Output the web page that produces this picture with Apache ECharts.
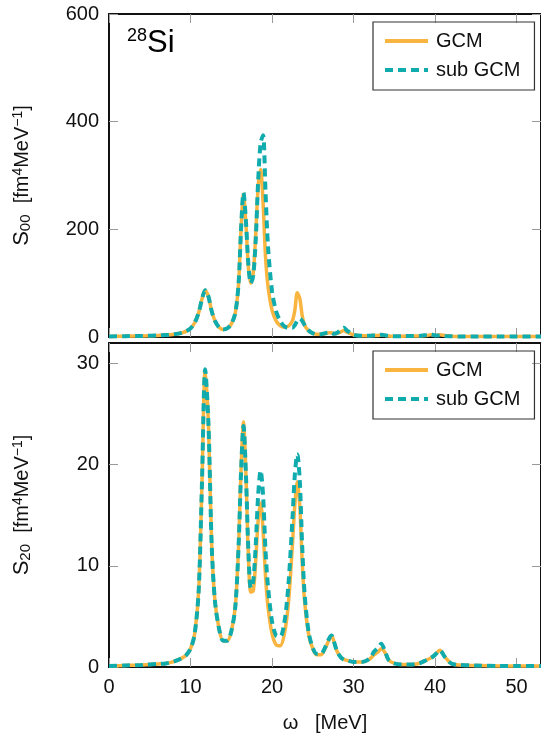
<!DOCTYPE html>
<html>
<head>
<meta charset="utf-8">
<script src="https://cdn.jsdelivr.net/npm/echarts@6/dist/echarts.min.js"></script>
<style>
  html, body { margin: 0; padding: 0; background: #fff; }
  #chart { width: 541px; height: 738px; }
</style>
</head>
<body>
<div id="chart"></div>
<script>
// omega grid in MeV, shared by both panels
const omega = [0, 2, 4, 6, 7, 8, 9, 9.5, 10, 10.5, 11, 11.4, 11.8, 12.2, 12.6, 13, 13.5, 14, 14.5, 15,
  15.5, 15.9, 16.2, 16.5, 16.8, 17.1, 17.4, 17.7, 18, 18.3, 18.6, 18.9, 19.2, 19.5, 20, 20.5, 21, 21.5,
  22, 22.5, 22.8, 23.1, 23.4, 23.7, 24, 24.5, 25, 25.5, 26, 26.5, 27, 27.3, 27.6, 28, 28.5, 28.8, 29.2,
  30, 31, 32, 32.5, 33, 33.4, 33.8, 34.3, 35, 36, 37, 38, 39, 39.5, 40, 40.6, 41.2, 42, 43, 45, 48, 50, 53];

// S00 (top panel)
const s00Gcm = [1, 1.5, 2, 3, 3.5, 5, 8, 11, 16, 26, 45, 70, 87, 75, 48, 30, 18, 14, 16, 24,
  45, 100, 200, 265, 210, 130, 100, 120, 190, 280, 311, 250, 150, 95, 50, 30, 21, 18,
  20, 30, 50, 82, 72, 40, 22, 11, 7, 5, 5, 6, 8, 8, 6, 7, 10, 12, 9,
  4, 2.5, 2.5, 3, 3, 3.5, 3, 2, 1.5, 1.5, 2, 2, 3, 4, 3, 4, 3, 1.5, 1, 1, 1, 1, 1];
const s00Sub = [1, 1.5, 2, 3, 3.5, 5, 8, 11, 16, 26, 45, 70, 87, 75, 48, 30, 18, 14, 16, 24,
  45, 100, 200, 268, 215, 135, 100, 115, 180, 290, 360, 375, 270, 170, 85, 48, 30, 20,
  17, 17, 22, 30, 34, 30, 22, 12, 7, 5, 5, 7, 8, 8, 6, 8, 14, 17, 12,
  4, 2.5, 2.5, 3, 3.5, 4, 3.5, 2, 1.5, 1.5, 2, 2, 4, 5, 3, 3, 2, 1.5, 1, 1, 1, 1, 1];

// S20 (bottom panel)
const s20Gcm = [0.1, 0.15, 0.2, 0.3, 0.35, 0.55, 0.9, 1.2, 1.8, 3.2, 7.5, 18, 29.3, 24, 12, 6.5, 3.8, 2.6, 2.6, 3.5,
  6, 12, 19.5, 24.2, 19, 11, 7.4, 7.5, 10.5, 14.5, 16.2, 13.5, 9, 6, 3.3, 2.2, 2.1, 3.2,
  6.2, 12, 16, 18.3, 16, 10.5, 6.5, 3.2, 1.8, 1.2, 1.2, 1.8, 2.7, 3.1, 2.5, 1.5, 0.9, 0.75, 0.65,
  0.5, 0.5, 0.8, 1.2, 1.5, 1.8, 1.5, 0.7, 0.35, 0.25, 0.25, 0.35, 0.7, 0.9, 1.2, 1.65, 1.0, 0.35, 0.2, 0.15, 0.1, 0.1, 0.1];
const s20Sub = [0.1, 0.15, 0.2, 0.3, 0.35, 0.55, 0.9, 1.2, 1.8, 3.2, 7.5, 18, 29.4, 24, 12, 6.5, 3.8, 2.6, 2.6, 3.5,
  6, 12, 19.2, 23.8, 19, 11.5, 7.8, 8.5, 12, 17, 19.4, 17, 11.5, 8, 4.5, 3.1, 3.0, 4.3,
  8, 14.5, 19, 21, 18.5, 12, 7.2, 3.4, 1.9, 1.3, 1.3, 1.9, 2.8, 3.1, 2.5, 1.5, 0.9, 0.75, 0.65,
  0.5, 0.5, 0.85, 1.5, 1.9, 2.3, 1.7, 0.7, 0.35, 0.25, 0.25, 0.35, 0.7, 0.9, 1.2, 1.65, 1.0, 0.35, 0.2, 0.15, 0.1, 0.1, 0.1];

const xTicks = [0, 10, 20, 30, 40, 50];
const yTicksTop = [0, 200, 400, 600];
const yTicksBottom = [0, 10, 20, 30];

const FONT = 'Liberation Sans';
const ORANGE = '#FAB540';
const TEAL = '#10ABAD';

const pairs = ys => omega.map((x, i) => [x, ys[i]]);

const chart = echarts.init(document.getElementById('chart'), null, { renderer: 'canvas' });

const frameLine = { show: true, onZero: false, lineStyle: { color: '#111', width: 2 } };
const tick = vals => ({ show: true, inside: true, length: 9, customValues: vals, lineStyle: { color: '#9a9a9a', width: 1 } });
const labelStyle = { fontFamily: FONT, fontSize: 20, color: '#111' };

const xAxisFor = (gridIndex, position, showLabels) => ({
  type: 'value', gridIndex, position, min: 0, max: 53,
  axisLine: frameLine,
  axisTick: tick(xTicks),
  axisLabel: Object.assign({ show: showLabels, customValues: xTicks, margin: 10 }, labelStyle),
  splitLine: { show: false }
});

const yAxisFor = (gridIndex, position, max, ticks, name) => ({
  type: 'value', gridIndex, position, min: 0, max,
  axisLine: frameLine,
  axisTick: tick(ticks),
  axisLabel: Object.assign({ show: position === 'left', customValues: ticks, margin: 10 }, labelStyle),
  splitLine: { show: false },
  name: position === 'left' ? name : '',
  nameLocation: 'middle',
  nameRotate: 90,
  nameGap: 76,
  nameTextStyle: {
    fontFamily: FONT, fontSize: 20, color: '#111',
    rich: {
      s: { fontFamily: FONT, fontSize: 22, color: '#111' },
      sub: { fontFamily: FONT, fontSize: 15, color: '#111', verticalAlign: 'bottom', lineHeight: 22 },
      t: { fontFamily: FONT, fontSize: 20, color: '#111' },
      sup: { fontFamily: FONT, fontSize: 14, color: '#111', verticalAlign: 'top', lineHeight: 22 }
    }
  }
});

const legendFor = top => ({
  data: ['GCM', 'sub GCM'],
  orient: 'vertical',
  left: 373, top,
  itemWidth: 43, itemHeight: 14, itemGap: 9,
  padding: [9, 14, 10, 10],
  borderColor: '#333', borderWidth: 1.2,
  selectedMode: false,
  itemStyle: { opacity: 0 },
  lineStyle: { width: 4 },
  textStyle: { fontFamily: FONT, fontSize: 20, color: '#111', padding: [0, 0, 0, 3] }
});

const lineSeries = (name, xi, yi, data, dashed) => ({
  name, type: 'line', xAxisIndex: xi, yAxisIndex: yi,
  data: pairs(data),
  symbol: 'none', smooth: 0.3,
  lineStyle: dashed
    ? { color: TEAL, width: 4, type: [8, 5] }
    : { color: ORANGE, width: 3.5 },
  itemStyle: { color: dashed ? TEAL : ORANGE },
  z: dashed ? 3 : 2
});

chart.setOption({
  animation: false,
  grid: [
    { left: 109, right: -2, top: 14, height: 323 },
    { left: 109, right: -2, top: 343, height: 324 }
  ],
  xAxis: [
    xAxisFor(0, 'bottom', false),
    xAxisFor(0, 'top', false),
    Object.assign(xAxisFor(1, 'bottom', true), {
      name: 'ω   [MeV]', nameLocation: 'middle', nameGap: 46,
      nameTextStyle: { fontFamily: FONT, fontSize: 20, color: '#111' }
    }),
    xAxisFor(1, 'top', false)
  ],
  yAxis: [
    yAxisFor(0, 'left', 600, yTicksTop, '{s|S}{sub|00}  {t|[fm}{sup|4}{t|MeV}{sup|−1}{t|]}'),
    yAxisFor(0, 'right', 600, yTicksTop, ''),
    yAxisFor(1, 'left', 32, yTicksBottom, '{s|S}{sub|20}  {t|[fm}{sup|4}{t|MeV}{sup|−1}{t|]}'),
    yAxisFor(1, 'right', 32, yTicksBottom, '')
  ],
  legend: [legendFor(22), legendFor(351)],
  graphic: [{
    type: 'text', left: 127, top: 27,
    style: {
      text: '{sup|28}{el|Si}',
      rich: {
        sup: { fontFamily: FONT, fontSize: 18, color: '#111', verticalAlign: 'top', lineHeight: 32 },
        el: { fontFamily: FONT, fontSize: 31, color: '#111', lineHeight: 32 }
      }
    }
  }],
  series: [
    lineSeries('GCM', 0, 0, s00Gcm, false),
    lineSeries('sub GCM', 0, 0, s00Sub, true),
    lineSeries('GCM', 2, 2, s20Gcm, false),
    lineSeries('sub GCM', 2, 2, s20Sub, true)
  ]
});
</script>
</body>
</html>
